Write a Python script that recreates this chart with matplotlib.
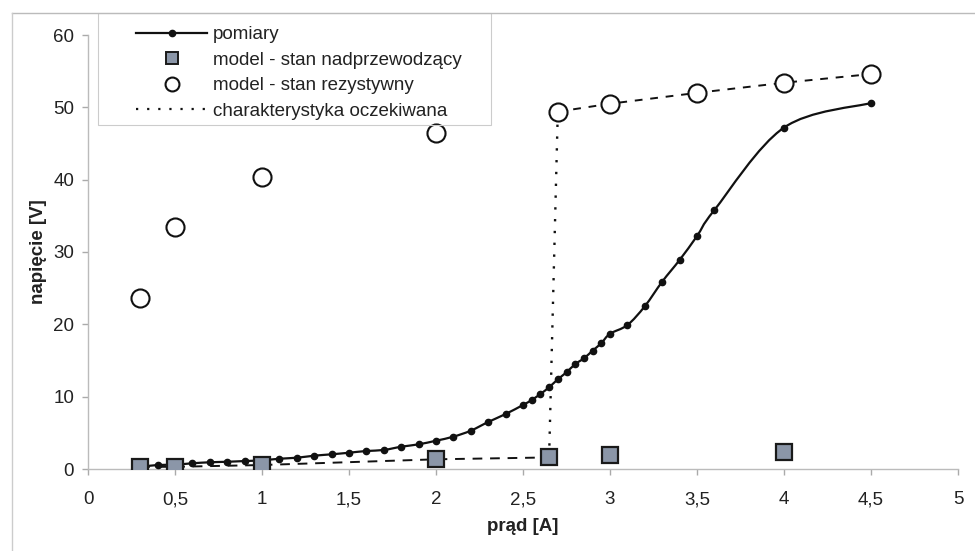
import numpy as np
import matplotlib
matplotlib.use('Agg')
import matplotlib.pyplot as plt
from matplotlib.path import Path
from matplotlib.patches import PathPatch, Rectangle
from matplotlib.lines import Line2D
from matplotlib.ticker import FuncFormatter, MultipleLocator

# measured curve (pomiary)
meas_x = [0.3, 0.4, 0.5, 0.6, 0.7, 0.8, 0.9, 1.0, 1.1, 1.2, 1.3, 1.4, 1.5, 1.6,
          1.7, 1.8, 1.9, 2.0, 2.1, 2.2, 2.3, 2.4, 2.5, 2.55, 2.6, 2.65, 2.7,
          2.75, 2.8, 2.85, 2.9, 2.95, 3.0, 3.1, 3.2, 3.3, 3.4, 3.5, 3.6, 4.0, 4.5]
meas_y = [0.3, 0.55, 0.6, 0.79, 0.93, 1.0, 1.1, 1.2, 1.42, 1.56, 1.84, 2.03, 2.25, 2.49,
          2.63, 3.08, 3.41, 3.91, 4.47, 5.3, 6.5, 7.6, 8.85, 9.54, 10.37, 11.3, 12.4,
          13.37, 14.5, 15.3, 16.36, 17.4, 18.7, 19.9, 22.5, 25.9, 28.9, 32.2, 35.8, 47.2, 50.6]

# model - superconducting state
sc_x = [0.3, 0.5, 1.0, 2.0, 2.65, 3.0, 4.0]
sc_y = [0.3, 0.3, 0.55, 1.34, 1.6, 1.94, 2.3]

# model - resistive state
res_x = [0.3, 0.5, 1.0, 2.0, 2.7, 3.0, 3.5, 4.0, 4.5]
res_y = [23.6, 33.4, 40.3, 46.4, 49.4, 50.5, 52.0, 53.4, 54.6]

# expected characteristic
exp_x = [0.3, 0.5, 1.0, 2.0, 2.65, 2.7, 3.0, 3.5, 4.0, 4.5]
exp_y = [0.3, 0.3, 0.55, 1.34, 1.6, 49.4, 50.5, 52.0, 53.4, 54.6]

labels = ['pomiary', 'model - stan nadprzewodzący', 'model - stan rezystywny',
          'charakterystyka oczekiwana']

plt.rcParams['font.family'] = ['Liberation Sans', 'DejaVu Sans']
fs = 13.5
txt = '#222222'


def smooth_path(x, y):
    # excel-like smoothed line: cubic bezier through the points
    p = np.column_stack([x, y])
    n = len(p)
    verts = [p[0]]
    codes = [Path.MOVETO]
    for i in range(n - 1):
        p0 = p[i - 1] if i > 0 else p[i]
        p3 = p[i + 2] if i + 2 < n else p[i + 1]
        c1 = p[i] + (p[i + 1] - p0) / 6
        c2 = p[i + 1] - (p3 - p[i]) / 6
        verts += [c1, c2, p[i + 1]]
        codes += [Path.CURVE4] * 3
    return Path(verts, codes)


fig = plt.figure(figsize=(9.75, 5.51), dpi=100)
ax = fig.add_axes([88 / 975, 82 / 551, 870 / 975, 434 / 551])

# expected characteristic
ax.plot(exp_x[:5], exp_y[:5], color='#111111', lw=1.4, ls=(0, (5, 4)), zorder=2)
ax.plot(exp_x[4:6], exp_y[4:6], color='#111111', lw=1.7, ls=(0, (1, 4)), zorder=2)
ax.plot(exp_x[5:], exp_y[5:], color='#111111', lw=1.4, ls=(0, (4, 4)), zorder=2)

# measured
ax.add_patch(PathPatch(smooth_path(meas_x, meas_y), fill=False, edgecolor='#111111',
                       lw=1.6, zorder=3))
ax.plot(meas_x, meas_y, ls='none', marker='o', ms=4.5, color='#111111', zorder=4)

# models
ax.plot(sc_x, sc_y, ls='none', marker='s', ms=11, mfc='#8b96a8', mec='#1a1a1a',
        mew=1.6, zorder=5)
ax.plot(res_x, res_y, ls='none', marker='o', ms=13, mfc='white', mec='#111111',
        mew=1.5, zorder=5)

ax.set_xlim(0, 5)
ax.set_ylim(0, 60)
ax.xaxis.set_major_locator(MultipleLocator(0.5))
ax.yaxis.set_major_locator(MultipleLocator(10))
comma = FuncFormatter(lambda v, pos: ('%g' % v).replace('.', ','))
ax.xaxis.set_major_formatter(comma)
ax.yaxis.set_major_formatter(comma)
ax.tick_params(labelsize=fs, colors='#aaaaaa', labelcolor=txt, length=4, width=1)
ax.tick_params(axis='x', pad=12)
ax.tick_params(axis='y', pad=6)

for s in ['top', 'right']:
    ax.spines[s].set_visible(False)
for s in ['left', 'bottom']:
    ax.spines[s].set_color('#bbbbbb')
    ax.spines[s].set_linewidth(1.0)

ax.set_xlabel('prąd [A]', fontsize=fs, fontweight='bold', color=txt)
ax.set_ylabel('napięcie [V]', fontsize=fs, fontweight='bold', color=txt)
ax.xaxis.set_label_coords(0.5, -0.113)
ax.yaxis.set_label_coords(-0.047, 0.5)

handles = [
    Line2D([], [], color='#111111', lw=1.6, marker='o', ms=4.5),
    Line2D([], [], ls='none', marker='s', ms=9, mfc='#8b96a8', mec='#1a1a1a', mew=1.4),
    Line2D([], [], ls='none', marker='o', ms=10, mfc='white', mec='#111111', mew=1.5),
    Line2D([], [], color='#111111', lw=1.6, ls=(0, (1, 4))),
]
leg = fig.legend(handles, labels, loc='lower left',
                 bbox_to_anchor=(136 / 975, (551 - 120) / 551), frameon=False,
                 fontsize=fs, handlelength=3.8, handletextpad=0.3,
                 labelspacing=0.45, borderpad=0, borderaxespad=0)
for t in leg.get_texts():
    t.set_color(txt)

# legend box and chart area border
fig.add_artist(Rectangle((98 / 975, (551 - 125) / 551), 393 / 975, 112 / 551,
                         transform=fig.transFigure, fill=False, edgecolor='#cccccc',
                         lw=0.8))
fig.add_artist(Line2D([12 / 975, 1], [1 - 13 / 551] * 2, transform=fig.transFigure,
                      color='#bbbbbb', lw=1.0))
fig.add_artist(Line2D([12 / 975] * 2, [0, 1 - 13 / 551], transform=fig.transFigure,
                      color='#cccccc', lw=1.0))

fig.savefig('out.png', dpi=100)
